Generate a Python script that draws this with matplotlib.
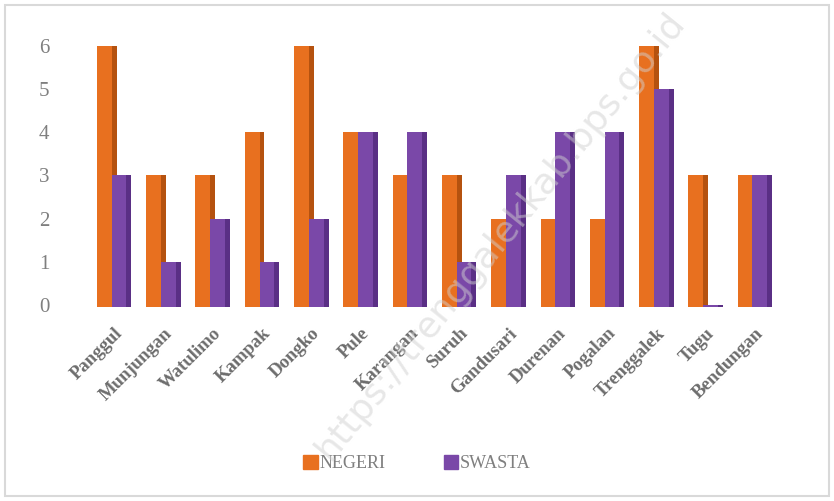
import numpy as np
import matplotlib.pyplot as plt
from matplotlib.patches import Rectangle

kecamatan = ["Panggul", "Munjungan", "Watulimo", "Kampak", "Dongko", "Pule",
             "Karangan", "Suruh", "Gandusari", "Durenan", "Pogalan",
             "Trenggalek", "Tugu", "Bendungan"]
negeri = [6, 3, 3, 4, 6, 4, 3, 3, 2, 2, 2, 6, 3, 3]
swasta = [3, 1, 2, 1, 2, 4, 4, 1, 3, 4, 4, 5, 0, 3]

orange = "#e8701f"
orange_dark = "#b5520f"
purple = "#7a48a8"
purple_dark = "#5a2f85"
grey = "#7f7f7f"

fig = plt.figure(figsize=(8.34, 5.01), dpi=100)
fig.patches.append(Rectangle((0.006, 0.01), 0.988, 0.98, transform=fig.transFigure,
                             fill=False, edgecolor="#d9d9d9", linewidth=1.5))

ax = fig.add_axes([0.096, 0.385, 0.85, 0.54])
x = np.arange(len(kecamatan))
w = 0.4
base = -0.06


def bar3d(pos, vals, col, dark, z):
    # front face plus a darker side strip to mimic the excel 3d column
    h = np.array(vals) - base
    ax.bar(pos, h, w, bottom=base, color=col, zorder=z)
    ax.bar(pos + w / 2 - 0.05, h, 0.1, bottom=base, color=dark, zorder=z + 0.1)


bar3d(x - 0.15, negeri, orange, orange_dark, 2)
bar3d(x + 0.15, swasta, purple, purple_dark, 3)

ax.set_xlim(-0.69, 13.69)
ax.set_ylim(-0.08, 6.2)
ax.set_yticks(range(0, 7))
ax.tick_params(axis="y", length=0, labelsize=15, labelcolor=grey, pad=22)
for t in ax.get_yticklabels():
    t.set_fontfamily("Liberation Serif")
ax.set_xticks(x)
ax.set_xticklabels(kecamatan, rotation=45, ha="right", rotation_mode="anchor",
                   fontfamily="Liberation Serif", fontweight="bold", fontsize=13.5,
                   color="#6d6d6d")
ax.tick_params(axis="x", length=0, pad=12)
for s in ax.spines.values():
    s.set_visible(False)

h1 = Rectangle((0, 0), 1, 1, color=orange)
h2 = Rectangle((0, 0), 1, 1, color=purple)
fig.legend([h1, h2], ["NEGERI", "SWASTA"], loc="center", bbox_to_anchor=(0.5, 0.075),
           ncol=2, frameon=False, handlelength=0.8, handleheight=0.8, handletextpad=0.1,
           columnspacing=3.2, prop={"family": "Liberation Serif", "size": 13},
           labelcolor=grey)

fig.text(0.6, 0.53, "https://trenggalekkab.bps.go.id", rotation=51, ha="center",
         va="center", fontsize=26, color="#d0d0d0", alpha=0.5, zorder=10)

fig.savefig("out.png", dpi=100)
